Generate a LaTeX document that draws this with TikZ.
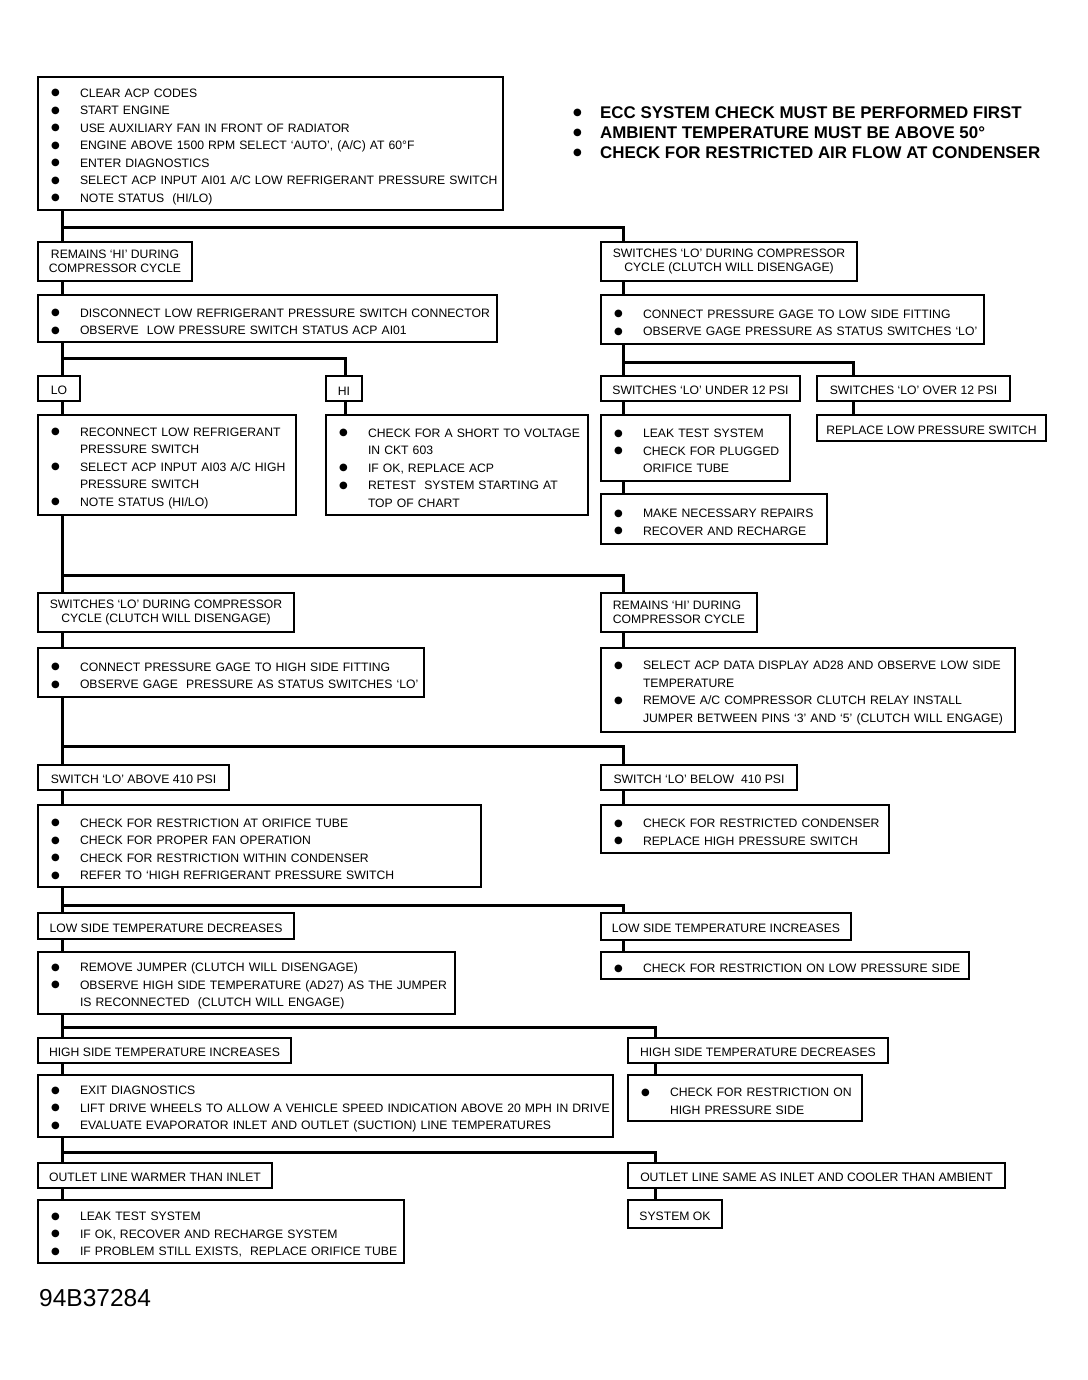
\documentclass[tikz,border=0pt]{standalone}
\usepackage{fontspec}
\usepackage{graphicx}
\setmainfont{Liberation Sans}
\newfontfamily\symfont{DejaVu Sans}
\newcommand\bul{\makebox[28pt][l]{\hspace*{-1pt}\raisebox{1.5pt}{\symfont\fontsize{10}{10}\selectfont ●}}}
\newcommand\nbul{\makebox[29pt][l]{\hspace*{2pt}\raisebox{3pt}{\symfont\fontsize{10}{10}\selectfont\mdseries ●}}}
\newcommand\itm[1]{\mbox{\bul #1}}
\newcommand\itc[1]{\mbox{\hspace*{28pt}#1}}
\begin{document}
\begin{tikzpicture}[x=1pt,y=-1pt,
		box/.style={draw,line width=2.4pt,anchor=north west,outer sep=0pt,inner xsep=14pt,inner ysep=2pt,align=left,font=\fontsize{12.2}{17.5}\selectfont,execute at begin node={\rule{0pt}{15pt}}},
		tag/.style={draw,line width=2.4pt,anchor=north west,outer sep=0pt,inner xsep=8pt,inner ysep=2pt,align=center,font=\fontsize{12.2}{13.5}\selectfont,execute at begin node={\rule{0pt}{13pt}}},
		tagii/.style={draw,line width=2.4pt,anchor=north west,outer sep=0pt,inner xsep=8pt,inner ysep=2pt,align=center,font=\fontsize{12.2}{13.5}\selectfont},
		link/.style={line width=3pt}]
	\useasboundingbox (0,0) rectangle (1087,1380);
	
	%\draw[help lines] (0,0) grid[step=100] (1087,1380);
	\node[box,text width=437pt,minimum height=133pt] (start) at (38,77) {\itm{CLEAR ACP CODES}\\ \itm{START ENGINE}\\ \itm{USE AUXILIARY FAN IN FRONT OF RADIATOR}\\ \itm{ENGINE ABOVE 1500 RPM SELECT `AUTO', (A/C) AT 60°F}\\ \itm{ENTER DIAGNOSTICS}\\ \itm{SELECT ACP INPUT AI01 A/C LOW REFRIGERANT PRESSURE SWITCH}\\ \itm{NOTE STATUS\ \ (HI/LO)}};
	\node[anchor=north west,inner sep=0pt,align=left,font=\fontsize{16.9}{20}\selectfont\bfseries] (notes) at (571,107) {\nbul ECC SYSTEM CHECK MUST BE PERFORMED FIRST\\ \nbul AMBIENT TEMPERATURE MUST BE ABOVE 50°\\ \nbul CHECK FOR RESTRICTED AIR FLOW AT CONDENSER};
	
	% first test
	\node[tagii,minimum width=154pt,minimum height=39pt] (hiA) at (38,242) {REMAINS `HI' DURING\\COMPRESSOR CYCLE};
	\node[tagii,minimum width=256pt,minimum height=39pt] (loA) at (601,242) {SWITCHES `LO' DURING COMPRESSOR\\CYCLE (CLUTCH WILL DISENGAGE)};
	\node[box,text width=431pt,minimum height=47pt] (disc) at (38,295) {\itm{DISCONNECT LOW REFRIGERANT PRESSURE SWITCH CONNECTOR}\\ \itm{OBSERVE\ \ LOW PRESSURE SWITCH STATUS ACP AI01}};
	\node[box,text width=355pt,minimum height=49pt] (gageLo) at (601,295) {\itm{CONNECT PRESSURE GAGE TO LOW SIDE FITTING}\\ \itm{OBSERVE GAGE PRESSURE AS STATUS SWITCHES `LO'}};
	\node[tag,minimum width=42pt,minimum height=25pt] (lo) at (38,376) {LO};
	\node[tag,minimum width=36pt,minimum height=25pt] (hi) at (326,376) {HI};
	\node[tag,minimum width=199pt,minimum height=25pt] (under) at (601,376) {SWITCHES `LO' UNDER 12 PSI};
	\node[tag,minimum width=193pt,minimum height=25pt] (over) at (817,376) {SWITCHES `LO' OVER 12 PSI};
	\node[box,text width=230pt,minimum height=100pt] (reconn) at (38,415) {\itm{RECONNECT LOW REFRIGERANT}\\ \itc{PRESSURE SWITCH}\\ \itm{SELECT ACP INPUT AI03 A/C HIGH}\\ \itc{PRESSURE SWITCH}\\ \itm{NOTE STATUS (HI/LO)}};
	\node[box,text width=234pt,minimum height=100pt] (short) at (326,415) {\itm{CHECK FOR A SHORT TO VOLTAGE}\\ \itc{IN CKT 603}\\ \itm{IF OK, REPLACE ACP}\\ \itm{RETEST\ \ SYSTEM STARTING AT}\\ \itc{TOP OF CHART}};
	\node[box,text width=161pt,minimum height=66pt] (leak) at (601,415) {\itm{LEAK TEST SYSTEM}\\ \itm{CHECK FOR PLUGGED}\\ \itc{ORIFICE TUBE}};
	\node[tag,minimum width=229pt,minimum height=26pt] (repl) at (817,415) {REPLACE LOW PRESSURE SWITCH};
	\node[box,text width=198pt,minimum height=50pt] (repair) at (601,494) {\itm{MAKE NECESSARY REPAIRS}\\ \itm{RECOVER AND RECHARGE}};
	
	% second test
	\node[tagii,minimum width=256pt,minimum height=39pt] (loB) at (38,593) {SWITCHES `LO' DURING COMPRESSOR\\CYCLE (CLUTCH WILL DISENGAGE)};
	\node[tagii,align=left,minimum width=156pt,minimum height=39pt] (hiB) at (601,593) {REMAINS `HI' DURING\\COMPRESSOR CYCLE};
	\node[box,text width=358pt,minimum height=49pt] (gageHi) at (38,648) {\itm{CONNECT PRESSURE GAGE TO HIGH SIDE FITTING}\\ \itm{OBSERVE GAGE\ \ PRESSURE AS STATUS SWITCHES `LO'}};
	\node[box,text width=386pt,minimum height=84pt] (ad) at (601,648) {\itm{SELECT ACP DATA DISPLAY AD28 AND OBSERVE LOW SIDE}\\ \itc{TEMPERATURE}\\ \itm{REMOVE A/C COMPRESSOR CLUTCH RELAY INSTALL}\\ \itc{JUMPER BETWEEN PINS `3' AND `5' (CLUTCH WILL ENGAGE)}};
	\node[tag,minimum width=191pt,minimum height=25pt] (above) at (38,765) {SWITCH `LO' ABOVE 410 PSI};
	\node[tag,minimum width=196pt,minimum height=25pt] (below) at (601,765) {SWITCH `LO' BELOW\ \ 410 PSI};
	\node[box,text width=415pt,minimum height=82pt] (restr) at (38,805) {\itm{CHECK FOR RESTRICTION AT ORIFICE TUBE}\\ \itm{CHECK FOR PROPER FAN OPERATION}\\ \itm{CHECK FOR RESTRICTION WITHIN CONDENSER}\\ \itm{REFER TO `HIGH REFRIGERANT PRESSURE SWITCH}};
	\node[box,text width=260pt,minimum height=48pt] (cond) at (601,805) {\itm{CHECK FOR RESTRICTED CONDENSER}\\ \itm{REPLACE HIGH PRESSURE SWITCH}};
	
	% temperatures
	\node[tag,minimum width=256pt,minimum height=26pt] (lowDec) at (38,913) {LOW SIDE TEMPERATURE DECREASES};
	\node[tag,minimum width=250pt,minimum height=27pt] (lowInc) at (601,913) {LOW SIDE TEMPERATURE INCREASES};
	\node[box,text width=389pt,minimum height=62pt] (jumper) at (38,952) {\itm{REMOVE JUMPER (CLUTCH WILL DISENGAGE)}\\ \itm{OBSERVE HIGH SIDE TEMPERATURE (AD27) AS THE JUMPER}\\ \itc{IS RECONNECTED\ \ (CLUTCH WILL ENGAGE)}};
	\node[box,text width=340pt,minimum height=27pt] (lowSide) at (601,952) {\itm{CHECK FOR RESTRICTION ON LOW PRESSURE SIDE}};
	\node[tag,minimum width=253pt,minimum height=25pt] (highInc) at (38,1038) {HIGH SIDE TEMPERATURE INCREASES};
	\node[tag,minimum width=260pt,minimum height=25pt] (highDec) at (628,1038) {HIGH SIDE TEMPERATURE DECREASES};
	\node[box,text width=547pt,minimum height=62pt] (exit) at (38,1075) {\itm{EXIT DIAGNOSTICS}\\ \itm{LIFT DRIVE WHEELS TO ALLOW A VEHICLE SPEED INDICATION ABOVE 20 MPH IN DRIVE}\\ \itm{EVALUATE EVAPORATOR INLET AND OUTLET (SUCTION) LINE TEMPERATURES}};
	\node[box,text width=206pt,minimum height=46pt] (highSide) at (628,1075) {\itm{CHECK FOR RESTRICTION ON}\\ \itc{HIGH PRESSURE SIDE}};
	\node[tag,minimum width=234pt,minimum height=25pt] (warmer) at (38,1163) {OUTLET LINE WARMER THAN INLET};
	\node[tag,minimum width=377pt,minimum height=25pt] (same) at (628,1163) {OUTLET LINE SAME AS INLET AND COOLER THAN AMBIENT};
	\node[box,text width=338pt,minimum height=63pt] (final) at (38,1200) {\itm{LEAK TEST SYSTEM}\\ \itm{IF OK, RECOVER AND RECHARGE SYSTEM}\\ \itm{IF PROBLEM STILL EXISTS,\ \ REPLACE ORIFICE TUBE}};
	\node[tag,minimum width=94pt,minimum height=28pt] (ok) at (628,1200) {SYSTEM OK};
	
	\node[anchor=base west,inner sep=0pt,font=\fontsize{24.5}{26}\selectfont] (code) at (39,1306) {94B37284};
	
	% connectors
	\draw[link] ([xshift=24pt]start.south west) -- ([xshift=24pt]hiA.north west);
	\draw[link] ([xshift=24pt]start.south west) -- ++(0,18) -| ([xshift=22pt]loA.north west);
	\draw[link] ([xshift=24pt]hiA.south west) -- ([xshift=24pt]disc.north west);
	\draw[link] ([xshift=22pt]loA.south west) -- ([xshift=22pt]gageLo.north west);
	\draw[link] ([xshift=24pt]disc.south west) -- ([xshift=24pt]lo.north west);
	\draw[link] ([xshift=24pt]disc.south west) -- ++(0,16) -| ([xshift=19pt]hi.north west);
	\draw[link] ([xshift=22pt]gageLo.south west) -- ([xshift=22pt]under.north west);
	\draw[link] ([xshift=22pt]gageLo.south west) -- ++(0,18) -| ([xshift=36pt]over.north west);
	\draw[link] ([xshift=24pt]lo.south west) -- ([xshift=24pt]reconn.north west);
	\draw[link] ([xshift=19pt]hi.south west) -- ([xshift=19pt]short.north west);
	\draw[link] ([xshift=22pt]under.south west) -- ([xshift=22pt]leak.north west);
	\draw[link] ([xshift=22pt]leak.south west) -- ([xshift=22pt]repair.north west);
	\draw[link] ([xshift=36pt]over.south west) -- ([xshift=36pt]repl.north west);
	
	\draw[link] ([xshift=24pt]reconn.south west) -- ([xshift=24pt]loB.north west);
	\draw[link] ([xshift=24pt]reconn.south west) -- ++(0,60) -| ([xshift=22pt]hiB.north west);
	\draw[link] ([xshift=24pt]loB.south west) -- ([xshift=24pt]gageHi.north west);
	\draw[link] ([xshift=22pt]hiB.south west) -- ([xshift=22pt]ad.north west);
	\draw[link] ([xshift=24pt]gageHi.south west) -- ([xshift=24pt]above.north west);
	\draw[link] ([xshift=24pt]gageHi.south west) -- ++(0,49) -| ([xshift=22pt]below.north west);
	\draw[link] ([xshift=24pt]above.south west) -- ([xshift=24pt]restr.north west);
	\draw[link] ([xshift=22pt]below.south west) -- ([xshift=22pt]cond.north west);
	
	\draw[link] ([xshift=24pt]restr.south west) -- ([xshift=24pt]lowDec.north west);
	\draw[link] ([xshift=24pt]restr.south west) -- ++(0,18) -| ([xshift=22pt]lowInc.north west);
	\draw[link] ([xshift=24pt]lowDec.south west) -- ([xshift=24pt]jumper.north west);
	\draw[link] ([xshift=22pt]lowInc.south west) -- ([xshift=22pt]lowSide.north west);
	\draw[link] ([xshift=24pt]jumper.south west) -- ([xshift=24pt]highInc.north west);
	\draw[link] ([xshift=24pt]jumper.south west) -- ++(0,13) -| ([xshift=27pt]highDec.north west);
	\draw[link] ([xshift=24pt]highInc.south west) -- ([xshift=24pt]exit.north west);
	\draw[link] ([xshift=27pt]highDec.south west) -- ([xshift=27pt]highSide.north west);
	\draw[link] ([xshift=24pt]exit.south west) -- ([xshift=24pt]warmer.north west);
	\draw[link] ([xshift=24pt]exit.south west) -- ++(0,15) -| ([xshift=27pt]same.north west);
	\draw[link] ([xshift=24pt]warmer.south west) -- ([xshift=24pt]final.north west);
	\draw[link] ([xshift=27pt]same.south west) -- ([xshift=27pt]ok.north west);
\end{tikzpicture}
\end{document}
